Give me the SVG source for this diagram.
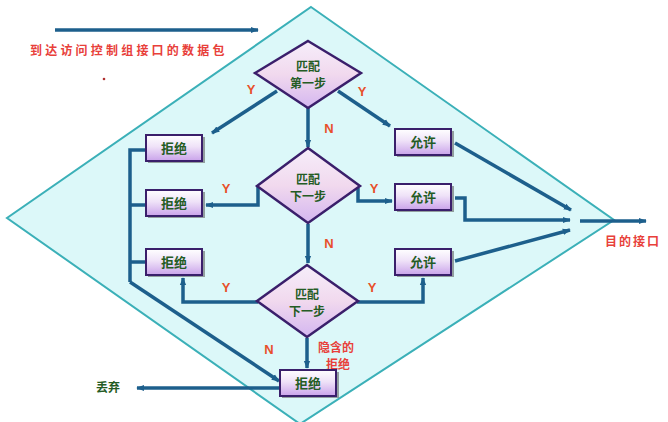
<svg xmlns="http://www.w3.org/2000/svg" width="668" height="422" viewBox="0 0 668 422">
<defs>
<linearGradient id="gbox" x1="0" y1="0" x2="0" y2="1">
<stop offset="0" stop-color="#ffffff"/>
<stop offset="0.45" stop-color="#efe2f8"/>
<stop offset="1" stop-color="#c9a2ea"/>
</linearGradient>
<linearGradient id="gdia" x1="0" y1="0" x2="0" y2="1">
<stop offset="0" stop-color="#f6eefa"/>
<stop offset="0.5" stop-color="#f1d9ee"/>
<stop offset="1" stop-color="#d4b6f0"/>
</linearGradient>
<marker id="ah" viewBox="0 0 10 10" refX="9" refY="5" markerWidth="8" markerHeight="8" markerUnits="userSpaceOnUse" orient="auto">
<path d="M0,1 L10,5 L0,9 z" fill="#1d5f8c"/>
</marker>
<style>
.box{fill:url(#gbox);stroke:#3a1f6b;stroke-width:2}
.shadow{fill:#555;opacity:0.55}
.dia{fill:url(#gdia);stroke:#3a1f6b;stroke-width:2.5}
.bt{font-family:"Noto Sans CJK SC","Noto Sans",sans-serif;font-size:13px;font-weight:bold;fill:#245c24;text-anchor:middle}
.dt{font-family:"Noto Sans CJK SC","Noto Sans",sans-serif;font-size:12px;font-weight:bold;fill:#245c24;text-anchor:middle}
.lab{font-family:"Liberation Sans",Arial,sans-serif;font-size:13px;font-weight:bold;fill:#e8502a;text-anchor:middle}
.red{font-family:"Noto Sans CJK SC","Noto Sans",sans-serif;font-size:12px;font-weight:bold;fill:#e8403a}
.c{fill:none;stroke:#1d5f8c;stroke-width:3.5;stroke-linejoin:miter}
.ca{fill:none;stroke:#1d5f8c;stroke-width:3.5;marker-end:url(#ah)}
</style>
</defs>
<rect width="668" height="422" fill="#ffffff"/>
<polygon id="bigdiamond" points="311,7 614,220 300,424 7,218" fill="#dcf8f9" stroke="#3bb0b8" stroke-width="2"/>
<text class="red" x="30" y="55" letter-spacing="3.2">到达访问控制组接口的数据包</text>
<circle cx="104" cy="79" r="1.3" fill="#b03030"/>
<g id="connectors">
<line class="ca" x1="55" y1="30" x2="258" y2="30"/>
<line class="ca" x1="277" y1="91" x2="212" y2="133"/>
<line class="ca" x1="338" y1="91" x2="390" y2="126"/>
<line class="ca" x1="308" y1="108" x2="308" y2="147"/>
<polyline class="ca" points="258,186 258,205 206,205"/>
<polyline class="ca" points="358,188 358,201 392,201"/>
<line class="ca" x1="308" y1="224" x2="308" y2="263"/>
<polyline class="ca" points="258,302 183,302 183,278"/>
<polyline class="ca" points="357,302 423,302 423,278"/>
<line class="ca" x1="307" y1="338" x2="307" y2="368"/>
<polyline class="c" points="146,150 130,150 130,282"/>
<line class="c" x1="130" y1="205" x2="146" y2="205"/>
<line class="c" x1="130" y1="262" x2="146" y2="262"/>
<line class="ca" x1="130" y1="282" x2="279" y2="381"/>
<line class="ca" x1="279" y1="388" x2="137" y2="388"/>
<line class="ca" x1="455" y1="143" x2="571" y2="210"/>
<polyline class="ca" points="455,198 465,198 465,220 570,220"/>
<line class="ca" x1="455" y1="261" x2="570" y2="230"/>
<line class="ca" x1="580" y1="221" x2="646" y2="221"/>
</g>
<g id="labels">
<text class="lab" x="251" y="94">Y</text>
<text class="lab" x="362" y="96">Y</text>
<text class="lab" x="329" y="133">N</text>
<text class="lab" x="226" y="193">Y</text>
<text class="lab" x="374" y="193">Y</text>
<text class="lab" x="329" y="248">N</text>
<text class="lab" x="226" y="292">Y</text>
<text class="lab" x="372" y="292">Y</text>
<text class="lab" x="269" y="354">N</text>
<text class="red" x="318" y="352">隐含的</text>
<text class="red" x="326" y="369">拒绝</text>
<text class="red" x="605" y="246" letter-spacing="2">目的接口</text>
<text x="108" y="392" style="font-family:'Noto Sans CJK SC',sans-serif;font-size:12px;font-weight:bold;fill:#245c24;text-anchor:middle">丢弃</text>
</g>
<g id="d1">
<polygon class="dia" points="308,41 361,73 308,108 255,73"/>
<text class="dt" x="308" y="71">匹配</text>
<text class="dt" x="308" y="88">第一步</text>
</g>
<g id="d2">
<polygon class="dia" points="308,148 360,186 308,223 257,186"/>
<text class="dt" x="308" y="184">匹配</text>
<text class="dt" x="308" y="201">下一步</text>
</g>
<g id="d3">
<polygon class="dia" points="307,265 358,301 307,337 257,301"/>
<text class="dt" x="307" y="299">匹配</text>
<text class="dt" x="307" y="316">下一步</text>
</g>
<g id="deny1"><rect class="shadow" x="148" y="137" width="57" height="26"/><rect class="box" x="146" y="135" width="56" height="26"/><text class="bt" x="174" y="153">拒绝</text></g>
<g id="deny2"><rect class="shadow" x="148" y="192" width="57" height="26"/><rect class="box" x="146" y="190" width="56" height="26"/><text class="bt" x="174" y="208">拒绝</text></g>
<g id="deny3"><rect class="shadow" x="148" y="251" width="57" height="26"/><rect class="box" x="146" y="249" width="56" height="26"/><text class="bt" x="174" y="267">拒绝</text></g>
<g id="deny4"><rect class="shadow" x="282" y="372" width="57" height="26"/><rect class="box" x="280" y="370" width="56" height="26"/><text class="bt" x="308" y="388">拒绝</text></g>
<g id="permit1"><rect class="shadow" x="397" y="131" width="57" height="26"/><rect class="box" x="395" y="129" width="56" height="26"/><text class="bt" x="423" y="147">允许</text></g>
<g id="permit2"><rect class="shadow" x="397" y="186" width="57" height="26"/><rect class="box" x="395" y="184" width="56" height="26"/><text class="bt" x="423" y="202">允许</text></g>
<g id="permit3"><rect class="shadow" x="397" y="251" width="57" height="26"/><rect class="box" x="395" y="249" width="56" height="26"/><text class="bt" x="423" y="267">允许</text></g>
</svg>
